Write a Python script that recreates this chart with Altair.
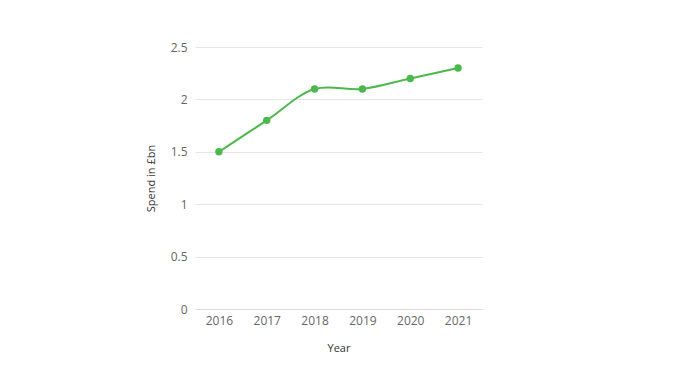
import altair as alt
import pandas as pd

years = ["2016", "2017", "2018", "2019", "2020", "2021"]
spend = [1.5, 1.8, 2.1, 2.1, 2.2, 2.3]

df = pd.DataFrame({"Year": years, "Spend": spend})

color = "#4cb84c"

base = alt.Chart(df).encode(
    x=alt.X("Year:O", title="Year",
            scale=alt.Scale(type="point", padding=0.5),
            axis=alt.Axis(labelAngle=0, ticks=False, domain=True, domainColor="#dcdcdc",
                          labelFontSize=12, labelColor="#666666", labelPadding=6,
                          titleFontSize=11, titleColor="#333333", titleFontWeight="normal",
                          titlePadding=16, grid=False)),
    y=alt.Y("Spend:Q", title="Spend in £bn",
            scale=alt.Scale(domain=[0, 2.5]),
            axis=alt.Axis(values=[0, 0.5, 1, 1.5, 2, 2.5], format="~g", ticks=False, domain=False,
                          labelFontSize=12, labelColor="#666666", labelPadding=8,
                          gridColor="#e6e6e6", titleFontSize=11, titleColor="#333333",
                          titleFontWeight="normal", titlePadding=14)),
)

line = base.mark_line(color=color, strokeWidth=2, interpolate="catmull-rom")
points = base.mark_circle(color=color, size=55, opacity=1)

chart = (line + points).properties(
    width=287, height=262,
    autosize=alt.AutoSizeParams(type="none"),
    padding={"left": 187, "top": 39, "right": 188, "bottom": 64},
).configure(font="Open Sans").configure_view(stroke=None)

chart.save("out.html", embed_options={"renderer": "svg", "actions": False})
